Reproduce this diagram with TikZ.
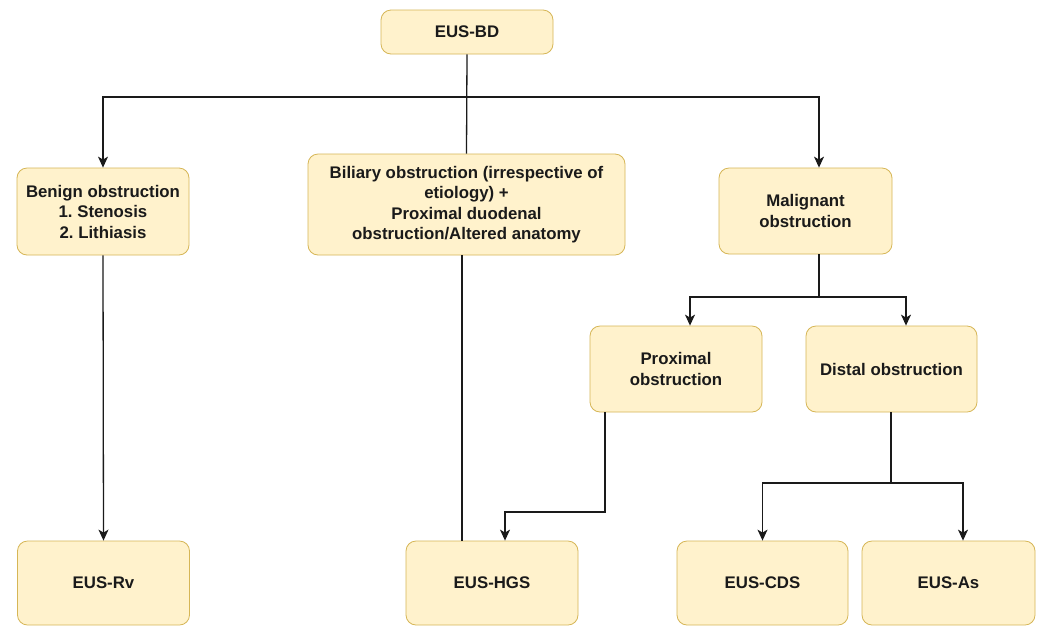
\documentclass[tikz,border=0pt]{standalone}
\usepackage{fontspec}
\setmainfont{Liberation Sans}
\usetikzlibrary{arrows.meta}
\frenchspacing
\definecolor{boxfill}{HTML}{FFF2CC}
\definecolor{boxline}{HTML}{D6B656}
\definecolor{txt}{HTML}{1A1A1A}
\definecolor{ln}{HTML}{1A1A1A}
\tikzset{
  box/.style={draw=boxline, fill=boxfill, rounded corners=10pt, line width=0.8pt,
    align=center, text=txt, inner sep=2pt,
    font=\fontsize{16.8}{20.5}\selectfont\bfseries},
  conn/.style={draw=ln, line width=1.3pt},
  arr/.style={conn, -{Stealth[length=11pt,width=10pt,inset=3pt]}}
}
\begin{document}
\begin{tikzpicture}[x=1pt,y=-1pt]
\useasboundingbox (0,0) rectangle (1039,625);
\fill[white] (0,0) rectangle (1039,625);
\node[box, minimum width=172pt, minimum height=44pt] (bd) at (467,32) {EUS-BD};
\node[box, minimum width=172pt, minimum height=87pt] (benign) at (103,211.5) {Benign obstruction\\1. Stenosis\\2. Lithiasis};
\node[box, minimum width=317pt, minimum height=101pt] (biliary) at (466.5,204.5) {Biliary obstruction (irrespective of\\etiology) +\\Proximal duodenal\\obstruction/Altered anatomy};
\node[box, minimum width=173pt, minimum height=86pt] (malig) at (805.5,211) {Malignant\\obstruction};
\node[box, minimum width=172pt, minimum height=86pt] (prox) at (676,369) {Proximal\\obstruction};
\node[box, minimum width=171pt, minimum height=86pt] (distal) at (891.5,369) {Distal obstruction};
\node[box, minimum width=172pt, minimum height=84pt] (rv) at (103.5,583) {EUS-Rv};
\node[box, minimum width=172pt, minimum height=84pt] (hgs) at (492,583) {EUS-HGS};
\node[box, minimum width=171pt, minimum height=84pt] (cds) at (762.5,583) {EUS-CDS};
\node[box, minimum width=173pt, minimum height=84pt] (as) at (948.5,583) {EUS-As};

\coordinate (j1) at (467,97);
\draw[conn] (bd.south) -- (biliary.north);
\draw[arr] (j1) -| (benign.north);
\draw[arr] (j1) -| (malig.north -| 819,0);
\draw[conn] (biliary.south -| 462,0) -- (hgs.north -| 462,0);
\draw[arr] (benign.south) -- (rv.north);

\coordinate (j2) at (819,297);
\draw[conn] (malig.south -| j2) -- (j2);
\draw[arr] (j2) -| (prox.north -| 690,0);
\draw[arr] (j2) -| (distal.north -| 906,0);

\coordinate (j3) at (605,512);
\draw[arr] (prox.south -| j3) -- (j3) -| (hgs.north -| 505,0);

\coordinate (j4) at (891,483);
\draw[conn] (distal.south -| j4) -- (j4);
\draw[arr] (j4) -| (cds.north);
\draw[arr] (j4) -| (as.north -| 963,0);
\end{tikzpicture}
\end{document}
